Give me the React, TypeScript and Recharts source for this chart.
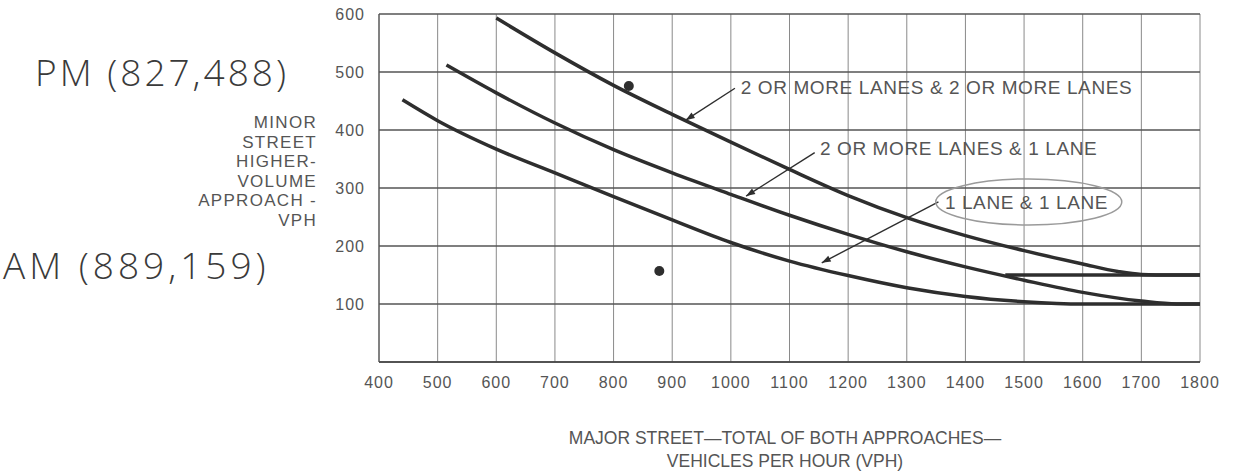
import React from 'react';
import {
  ComposedChart, Line, Scatter, XAxis, YAxis, CartesianGrid, ReferenceLine, ReferenceDot,
} from 'recharts';

const FONT = '"Liberation Sans", Arial, sans-serif';
const INK = '#2e2e2e';
const TEXT = '#555';

const X_TICKS = [400, 500, 600, 700, 800, 900, 1000, 1100, 1200, 1300, 1400, 1500, 1600, 1700, 1800];
const Y_TICKS = [100, 200, 300, 400, 500, 600];
const RIGHT_TICKS = [100, 150];

// 2 or more lanes & 2 or more lanes
const TWO_TWO_X = [600, 700, 800, 900, 1000, 1100, 1200, 1300, 1400, 1500, 1600, 1660, 1700, 1750, 1800];
const TWO_TWO_Y = [593, 533, 477, 427, 379, 332, 287, 249, 218, 192, 169, 156, 151, 150, 150];

// 2 or more lanes & 1 lane
const TWO_ONE_X = [515, 600, 700, 800, 900, 1000, 1100, 1200, 1300, 1400, 1500, 1600, 1700, 1760, 1800];
const TWO_ONE_Y = [512, 464, 412, 366, 326, 289, 253, 220, 190, 164, 141, 120, 105, 100, 100];

// 1 lane & 1 lane
const ONE_ONE_X = [440, 500, 600, 700, 800, 900, 1000, 1100, 1200, 1300, 1400, 1500, 1600, 1800];
const ONE_ONE_Y = [452, 416, 367, 326, 285, 245, 206, 174, 149, 128, 113, 104, 100, 100];

// 150 vph floor
const FLOOR_X = [1468, 1800];
const FLOOR_Y = [150, 150];

// observed volumes (PM, AM)
const OBS_X = [826, 878];
const OBS_Y = [476, 157];

const zip = (xs: number[], ys: number[]) => xs.map((x, i) => ({ x, y: ys[i] }));

const twoTwo = zip(TWO_TWO_X, TWO_TWO_Y);
const twoOne = zip(TWO_ONE_X, TWO_ONE_Y);
const oneOne = zip(ONE_ONE_X, ONE_ONE_Y);
const floor150 = zip(FLOOR_X, FLOOR_Y);
const observed = zip(OBS_X, OBS_Y);

const LABELS = [
  { text: '2 OR MORE LANES & 2 OR MORE LANES', x: 1017, y: 474, from: { x: 1007, y: 472 }, to: { x: 923, y: 417 } },
  { text: '2 OR MORE LANES & 1 LANE', x: 1152, y: 369, from: { x: 1143, y: 361 }, to: { x: 1026, y: 286 } },
  { text: '1 LANE & 1 LANE', x: 1365, y: 276, from: { x: 1354, y: 276 }, to: { x: 1155, y: 171 } },
];

const XTick = ({ x, y, payload }: any) => (
  <text x={x} y={y} dy="0.71em" textAnchor="middle" fontSize={16} fill={TEXT} fontFamily={FONT} letterSpacing={1}>
    {payload.value}
  </text>
);

const YTick = ({ x, y, payload }: any) => (
  <text x={x} y={y} dy="0.355em" textAnchor="end" fontSize={16} fill={TEXT} fontFamily={FONT} letterSpacing={1}>
    {payload.value}
  </text>
);

const RightTick = ({ x, y, payload }: any) => (
  <text x={x} y={y} dy="0.355em" textAnchor="start" fontSize={16} fill={TEXT} fontFamily={FONT} letterSpacing={1}>
    {payload.value}
    <tspan fontSize={10} dy={-6}>*</tspan>
  </text>
);

const arrow = (p: any) => {
  const { x1, y1, x2, y2 } = p;
  const a = Math.atan2(y2 - y1, x2 - x1);
  const L = 9;
  const W = 3.2;
  const bx = x2 - L * Math.cos(a);
  const by = y2 - L * Math.sin(a);
  const pts = `${x2},${y2} ${bx - W * Math.sin(a)},${by + W * Math.cos(a)} ${bx + W * Math.sin(a)},${by - W * Math.cos(a)}`;
  return (
    <g>
      <line x1={x1} y1={y1} x2={x2} y2={y2} stroke={INK} strokeWidth={1.4} />
      <polygon points={pts} fill={INK} />
    </g>
  );
};

const curveLabel = (text: string) => (p: any) => (
  <text x={p.cx} y={p.cy} dy="0.355em" fontSize={19} fill={TEXT} fontFamily={FONT} letterSpacing={0.6}>
    {text}
  </text>
);

const ellipse = (p: any) => (
  <ellipse cx={p.cx} cy={p.cy} rx={93} ry={23} fill="none" stroke="#9a9a9a" strokeWidth={1.5} />
);

const dot = (p: any) => <circle cx={p.cx} cy={p.cy} r={5} fill={INK} />;

export default function App() {
  return (
    <div style={{ position: 'absolute', left: 0, top: 0, width: 1251, height: 473, background: '#fff', fontFamily: FONT }}>
      <ComposedChart width={1251} height={473} margin={{ top: 14, right: 0, bottom: 0, left: 0 }}>
        <CartesianGrid horizontal={false} stroke="#8a8a8a" strokeWidth={1} />
        <CartesianGrid vertical={false} stroke="#555" strokeWidth={1.6} />
        <XAxis
          dataKey="x"
          type="number"
          domain={[400, 1800]}
          ticks={X_TICKS}
          interval={0}
          height={111}
          tickSize={0}
          tickMargin={15}
          tick={<XTick />}
          axisLine={{ stroke: '#444', strokeWidth: 1.6 }}
          allowDataOverflow
        />
        <YAxis
          dataKey="y"
          type="number"
          domain={[0, 600]}
          ticks={Y_TICKS}
          interval={0}
          width={379}
          tickSize={0}
          tickMargin={14}
          tick={<YTick />}
          axisLine={{ stroke: '#555', strokeWidth: 1.2 }}
          allowDataOverflow
        />
        <YAxis
          yAxisId="r"
          orientation="right"
          type="number"
          domain={[0, 600]}
          ticks={RIGHT_TICKS}
          interval={0}
          width={51}
          tickSize={0}
          tickMargin={11}
          tick={<RightTick />}
          axisLine={false}
        />

        <ReferenceDot x={1508} y={276} shape={ellipse} />

        <Line data={twoTwo} dataKey="y" type="monotone" stroke={INK} strokeWidth={3.5} dot={false} isAnimationActive={false} />
        <Line data={twoOne} dataKey="y" type="monotone" stroke={INK} strokeWidth={3.5} dot={false} isAnimationActive={false} />
        <Line data={oneOne} dataKey="y" type="monotone" stroke={INK} strokeWidth={3.5} dot={false} isAnimationActive={false} />
        <Line data={floor150} dataKey="y" type="linear" stroke={INK} strokeWidth={3.5} dot={false} isAnimationActive={false} />
        <Scatter data={observed} dataKey="y" shape={dot} isAnimationActive={false} />

        {LABELS.map((l) => (
          <ReferenceLine key={l.text + 'l'} segment={[l.from, l.to]} shape={arrow} />
        ))}
        {LABELS.map((l) => (
          <ReferenceDot key={l.text} x={l.x} y={l.y} shape={curveLabel(l.text)} />
        ))}
      </ComposedChart>

      <div style={{ position: 'absolute', left: 0, top: 113, width: 317, textAlign: 'right', fontSize: 17, lineHeight: '19.6px', letterSpacing: 1.3, color: TEXT }}>
        MINOR<br />STREET<br />HIGHER-<br />VOLUME<br />APPROACH -<br />VPH
      </div>

      <div style={{ position: 'absolute', left: 485, top: 427, width: 600, textAlign: 'center', fontSize: 17.5, lineHeight: '22.5px', color: TEXT }}>
        MAJOR STREET—TOTAL OF BOTH APPROACHES—<br />VEHICLES PER HOUR (VPH)
      </div>

      <div style={{ position: 'absolute', left: 35, top: 50, fontFamily: '"Open Sans", sans-serif', fontWeight: 300, fontSize: 37, lineHeight: '44px', letterSpacing: 3, color: '#3a3a3a', whiteSpace: 'nowrap' }}>
        PM (827,488)
      </div>
      <div style={{ position: 'absolute', left: 3, top: 243, fontFamily: '"Open Sans", sans-serif', fontWeight: 300, fontSize: 37, lineHeight: '44px', letterSpacing: 4, color: '#3a3a3a', whiteSpace: 'nowrap' }}>
        AM (889,159)
      </div>
    </div>
  );
}
